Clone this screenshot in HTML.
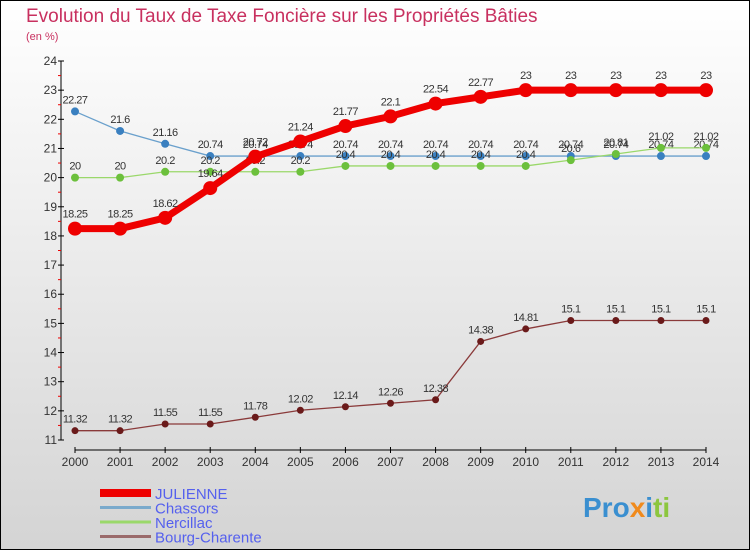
<!DOCTYPE html>
<html><head><meta charset="utf-8"><style>
html,body{margin:0;padding:0}
body{width:750px;height:550px;overflow:hidden;font-family:"Liberation Sans",sans-serif}
</style></head><body>
<svg id="chart" width="750" height="550" xmlns="http://www.w3.org/2000/svg">
<defs><linearGradient id="bg" x1="0" y1="0" x2="0" y2="1"><stop offset="0" stop-color="#ffffff"/><stop offset="1" stop-color="#d4d4d4"/></linearGradient></defs>
<rect x="0.5" y="0.5" width="749" height="549" fill="url(#bg)" stroke="#000"/>
<text x="26" y="22" font-size="19" fill="#c8305f">Evolution du Taux de Taxe Foncière sur les Propriétés Bâties</text>
<text x="26" y="40" font-size="11" fill="#c8305f">(en %)</text>
<g id="axes"></g><g id="series"></g><g id="legend"></g>
<text x="583" y="517" font-size="28" font-weight="bold" fill="#3a8fd0">Pro<tspan fill="#f08a1c">x</tspan><tspan fill="#3a8fd0">i</tspan><tspan fill="#8cc63f">ti</tspan></text>
</svg>
<script>
const years = [2000,2001,2002,2003,2004,2005,2006,2007,2008,2009,2010,2011,2012,2013,2014];
const julienne = [18.25,18.25,18.62,19.64,20.72,21.24,21.77,22.1,22.54,22.77,23,23,23,23,23];
const chassors = [22.27,21.6,21.16,20.74,20.74,20.74,20.74,20.74,20.74,20.74,20.74,20.74,20.74,20.74,20.74];
const nercillac = [20,20,20.2,20.2,20.2,20.2,20.4,20.4,20.4,20.4,20.4,20.6,20.81,21.02,21.02];
const bourg = [11.32,11.32,11.55,11.55,11.78,12.02,12.14,12.26,12.38,14.38,14.81,15.1,15.1,15.1,15.1];
const yTicks = [11,12,13,14,15,16,17,18,19,20,21,22,23,24];
const seriesNames = ["JULIENNE","Chassors","Nercillac","Bourg-Charente"];
const NS="http://www.w3.org/2000/svg";
const xs = i => 75 + i*(706-75)/(years.length-1);
const ys = v => 440 - (v-11)*(440-61)/13;
function mk(tag, attrs, parent){const e=document.createElementNS(NS,tag);for(const k in attrs)e.setAttribute(k,attrs[k]);parent.appendChild(e);return e;}
const axes=document.getElementById('axes');
let a=mk('line',{x1:61,y1:61,x2:61,y2:440,stroke:'#000'},axes);


a=mk('line',{x1:75,y1:450,x2:706,y2:450,stroke:'#000'},axes);


yTicks.forEach(t=>{
  mk('line',{x1:58,y1:ys(t),x2:64,y2:ys(t),stroke:'#000'},axes);
  if(t<24) mk('line',{x1:58,y1:ys(t+0.5),x2:61,y2:ys(t+0.5),stroke:'#e00'},axes);
  const tx=mk('text',{x:57,y:ys(t)+4,'font-size':12,'text-anchor':'end',fill:'#333'},axes);tx.textContent=t;
  
  
});
years.forEach((y,i)=>{
  mk('line',{x1:xs(i),y1:447,x2:xs(i),y2:453,stroke:'#000'},axes);
  const tx=mk('text',{x:xs(i),y:466,'font-size':12,'text-anchor':'middle',fill:'#333'},axes);tx.textContent=y;
  
  
});
const sg=document.getElementById('series');
const cfg=[[julienne,'#ee0000','#ee0000',7,7],[chassors,'#6aa0cc','#3a80c0',1.3,4],[nercillac,'#9ad86a','#6cc03c',1.3,4],[bourg,'#8a3a3a','#6a1a1a',1.3,3.5]];
const order=[3,1,2,0];
order.forEach(si=>{
  const [vals,lc,pc,w,r]=cfg[si];
  const g=mk('g',{},sg);
  
  
  const pl=mk('polyline',{points:vals.map((v,i)=>xs(i)+','+ys(v)).join(' '),fill:'none',stroke:lc,'stroke-width':w},g);
  
  
  vals.forEach((v,i)=>{
    const c=mk('circle',{cx:xs(i),cy:ys(v),r:r,fill:pc},g);
    
    
    const t=mk('text',{x:xs(i),y:ys(v)-(si==0?11:8),'font-size':11,'text-anchor':'middle',fill:'#333','letter-spacing':'-0.5'},g);
    t.textContent=String(v);
    
    
  });
});
const lg=document.getElementById('legend');
const lcol=['#ee0000','#7aaacc','#9ad86a','#9a6a6a'],lw=[8,3,3,3];
seriesNames.forEach((n,i)=>{
  const y=493+i*14.5;
  const g=mk('g',{},lg);
  
  
  mk('line',{x1:100,y1:y,x2:151,y2:y,stroke:lcol[i],'stroke-width':lw[i]},g);
  const t=mk('text',{x:155,y:y+6,'font-size':15,fill:'#5560ee'},g);t.textContent=n;
});
</script>
</body></html>
